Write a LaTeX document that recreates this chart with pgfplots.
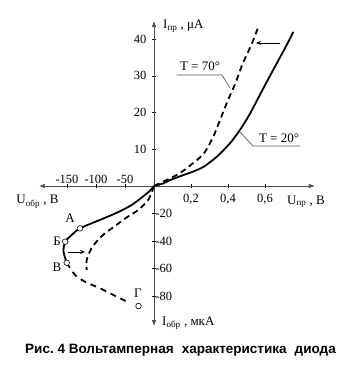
\documentclass[border=0pt]{standalone}
\usepackage{fontspec}
\setmainfont{Liberation Serif}
\newfontfamily\capfont{Liberation Sans}
\usepackage{pgfplots}
\pgfplotsset{compat=1.18}
\usepackage{pgfplotstable}
\usetikzlibrary{arrows.meta}

% forward branch: U in V, I in mA
\pgfplotstableread{
U I
0 0
0.05 0.7
0.086 1.6
0.16 3.0
0.21 3.9
0.27 5.3
0.34 8.0
0.41 11.6
0.465 15.3
0.52 19.8
0.573 24.9
0.645 31.7
0.717 38.4
0.753 42.0
}\fwdtwenty
\pgfplotstableread{
U I
0 0
0.05 1.2
0.14 3.5
0.21 6.2
0.27 8.9
0.32 13.4
0.357 18.0
0.40 23.4
0.44 28.0
0.48 33.4
0.53 38.9
0.564 43.4
}\fwdseventy
% reverse branch: U in V, I in microA
\pgfplotstableread{
U I
0 0
-6 -3
-15.5 -6.5
-38.5 -13.8
-67 -20
-101 -26
-127.6 -30.8
-142 -35.6
-153 -40.5
-156 -47.6
-150.5 -55.8
}\revtwenty
\pgfplotstableread{
U I
0 0
-9.8 -10
-27 -17.4
-44 -22
-67 -29
-90 -36.4
-107 -44.8
-116 -53.8
-116 -61
}\revseventy
\pgfplotstableread{
U I
-150.5 -55.8
-136 -64.7
-119 -69.6
-93 -74.4
-70 -79.3
-47 -84
-41 -85
}\revbreak
\pgfplotstableread{
U I
-127.6 -30.8
-153 -40.5
-150.5 -55.8
-26.7 -87.3
}\points

\begin{document}
\begin{tikzpicture}
\begin{axis}[
  x=1bp, y=1bp,
  axis lines=middle,
  xmin=-115, xmax=161, ymin=-140, ymax=165,
  clip=false,
  axis line style={black!70, line width=0.7bp},
  every inner x axis line/.append style={{Latex[length=6bp,width=4.5bp]}-{Latex[length=6bp,width=4.5bp]}},
  every inner y axis line/.append style={{Latex[length=6bp,width=4.5bp]}-{Latex[length=6bp,width=4.5bp]}},
  tick style={black, line width=0.5bp},
  major tick length=4bp,
  tick label style={font=\fontsize{12.5bp}{14bp}\selectfont},
  xtick={37,74,111},
  xticklabels={{0,2},{0,4},{0,6}},
  xticklabel style={anchor=north, yshift=-3bp},
  extra x ticks={-87,-58,-29},
  extra x tick labels={-150,-100,-50},
  extra x tick style={xticklabel style={anchor=south, yshift=4bp}},
  ytick={36.7,73.4,110.1,146.8},
  yticklabels={10,20,30,40},
  yticklabel style={anchor=east, xshift=-2bp},
  extra y ticks={-27.5,-55,-82.5,-110},
  extra y tick labels={-20,-40,-60,-80},
  extra y tick style={yticklabel style={anchor=west, xshift=2bp}},
]
\path (axis cs:-154,-184) rectangle (axis cs:198,186);

\addplot[black, line width=1.8bp, smooth, tension=0.5] table[x expr=\thisrow{U}*185, y expr=\thisrow{I}*3.67]{\fwdtwenty};
\addplot[black, line width=1.8bp, smooth, tension=0.5, dash pattern=on 6bp off 4bp] table[x expr=\thisrow{U}*185, y expr=\thisrow{I}*3.67]{\fwdseventy};
\addplot[black, line width=1.8bp, smooth, tension=0.5] table[x expr=\thisrow{U}*0.58, y expr=\thisrow{I}*1.375]{\revtwenty};
\addplot[black, line width=1.8bp, smooth, tension=0.5, dash pattern=on 6bp off 4bp] table[x expr=\thisrow{U}*0.58, y expr=\thisrow{I}*1.375]{\revseventy};
\addplot[black, line width=1.8bp, smooth, tension=0.5, dash pattern=on 6bp off 5bp] table[x expr=\thisrow{U}*0.58, y expr=\thisrow{I}*1.375]{\revbreak};
\addplot[only marks, mark=*, mark size=2.8bp, mark options={fill=white, draw=black, line width=0.6bp}] table[x expr=\thisrow{U}*0.58, y expr=\thisrow{I}*1.375]{\points};

\begin{scope}[every node/.style={font=\fontsize{13bp}{14bp}\selectfont, inner sep=0pt}]
\node at (axis cs:-84,-32) {А};
\node at (axis cs:-97,-55) {Б};
\node at (axis cs:-97,-81) {В};
\node at (axis cs:-16,-107) {Г};
\node at (axis cs:46,120) {T = 70°};
\node at (axis cs:125,48) {T = 20°};
\node at (axis cs:-116.5,-15.7) {U\textsubscript{обр} , В};
\node at (axis cs:152,-15.7) {U\textsubscript{пр} , В};
\node[anchor=west] at (axis cs:9,160) {I\textsubscript{пр} , μA};
\node[anchor=west] at (axis cs:8,-137) {I\textsubscript{обр} , мкА};
\end{scope}

\draw[black!65, line width=0.7bp] (axis cs:23,111) -- (axis cs:68,111) -- (axis cs:76,98);
\draw[black!65, line width=0.7bp] (axis cs:146,40) -- (axis cs:99,40) -- (axis cs:86,54);
\draw[black, line width=0.6bp, -{Stealth[length=5bp,width=4bp]}] (axis cs:-86,-66) -- (axis cs:-69,-66);
\draw[black, line width=0.6bp, -{Stealth[length=5bp,width=4bp]}] (axis cs:126,143) -- (axis cs:102,143);

\node[inner sep=0pt] at (axis cs:26.5,-164) {\capfont\bfseries\fontsize{13.5bp}{15bp}\selectfont Рис.~4 Вольтамперная\hspace{0.6em}характеристика\hspace{0.6em}диода};
\end{axis}
\end{tikzpicture}
\end{document}
